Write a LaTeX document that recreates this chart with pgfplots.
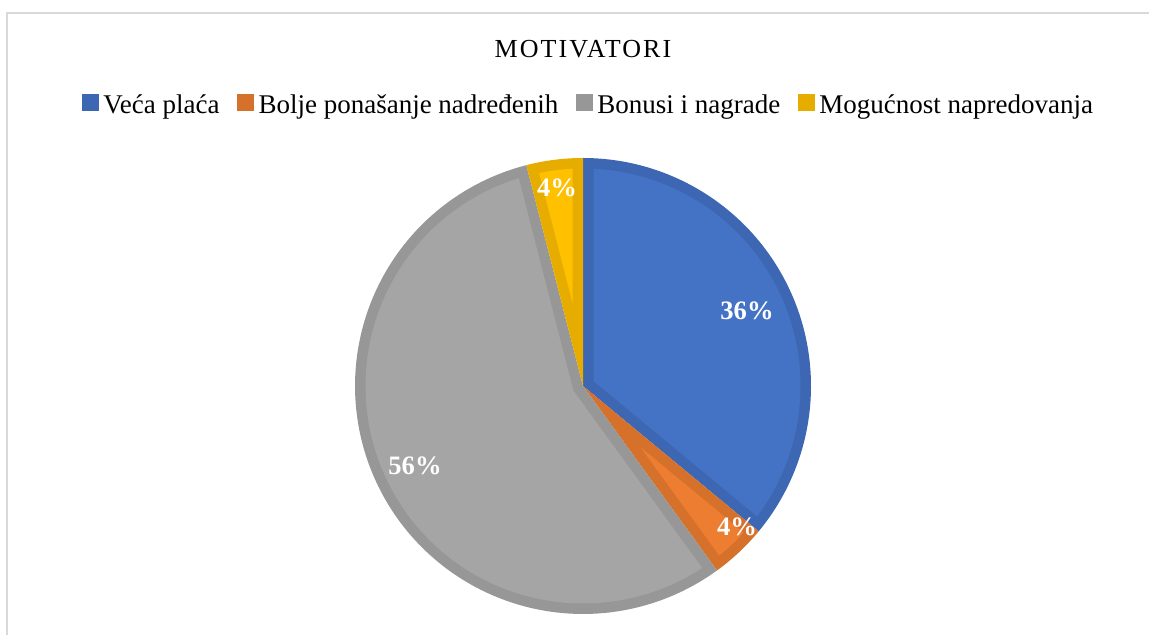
\documentclass[border=0pt]{standalone}
\usepackage{fontspec}
\setmainfont{Liberation Serif}
\newfontfamily\titlefont[LetterSpace=8]{Liberation Serif}
\usepackage{pgfplots}
\usepackage{pgfplotstable}
\pgfplotsset{compat=1.18}

\definecolor{bluelight}{HTML}{4472C4}
\definecolor{bluedark}{HTML}{3D67B2}
\definecolor{orangelight}{HTML}{ED7D31}
\definecolor{orangedark}{HTML}{D6712C}
\definecolor{graylight}{HTML}{A5A5A5}
\definecolor{graydark}{HTML}{979797}
\definecolor{yellowlight}{HTML}{FFC000}
\definecolor{yellowdark}{HTML}{E6AD00}
\definecolor{framegray}{HTML}{D9D9D9}

% shares in percent, in the order of the legend
\pgfplotstableread{
idx value
0 36
1 4
2 56
3 4
}\datatable

% pie geometry in pixel units of the picture
\def\cx{583}
\def\cy{249}
\def\R{228}
\def\w{10.5}
\gdef\curang{90}

\newcommand\pieslice[3]{%
  \pgfmathsetmacro\shi{\curang}%
  \pgfmathsetmacro\slo{\curang-3.6*#1}%
  \pgfmathsetmacro\smang{(\shi+\slo)/2}%
  \pgfmathsetmacro\sdd{\w/sin(1.8*#1)}%
  \pgfmathsetmacro\sax{\cx+\sdd*cos(\smang)}%
  \pgfmathsetmacro\say{\cy+\sdd*sin(\smang)}%
  \pgfmathsetmacro\sri{\R-\w}%
  \pgfmathsetmacro\sal{asin(\w/\sri)}%
  \pgfmathsetmacro\silo{\slo+\sal}%
  \pgfmathsetmacro\sihi{\shi-\sal}%
  \edef\tmp{%
    \noexpand\addplot[fill=#2,draw=none,domain=\slo:\shi,samples=120,forget plot]
      ({\cx+\R*cos(x)},{\cy+\R*sin(x)}) -- (\cx,\cy) -- cycle;
    \noexpand\addplot[fill=#3,draw=none,domain=\silo:\sihi,samples=120,forget plot]
      ({\cx+\sri*cos(x)},{\cy+\sri*sin(x)}) -- (\sax,\say) -- cycle;
  }%
  \tmp
  \global\let\curang\slo
}

\begin{document}
\begin{tikzpicture}
\begin{axis}[
  scale only axis,
  width=574.5pt, height=317.5pt,
  xmin=0, xmax=1149, ymin=0, ymax=635,
  hide axis, clip=false,
  legend columns=4,
  legend image code/.code={\fill[#1] (0pt,-2.4pt) rectangle (7.8pt,5.4pt);},
  legend style={
    at={(axis cs:590,530)}, anchor=center,
    draw=none, fill=none, inner sep=0pt,
    font=\fontsize{13.5}{15}\selectfont,
    nodes={inner xsep=2.4pt, inner ysep=0pt},
    /tikz/every even column/.append style={column sep=6.5pt},
  },
]
% chart frame (cropped at right and bottom)
\draw[framegray, line width=1pt] (6.5,0) -- (6.5,621.5) -- (1149,621.5);

\pgfplotstablegetelem{0}{value}\of\datatable \let\va\pgfplotsretval
\pgfplotstablegetelem{1}{value}\of\datatable \let\vb\pgfplotsretval
\pgfplotstablegetelem{2}{value}\of\datatable \let\vc\pgfplotsretval
\pgfplotstablegetelem{3}{value}\of\datatable \let\vd\pgfplotsretval

\pieslice{\va}{bluedark}{bluelight}
\pieslice{\vb}{orangedark}{orangelight}
\pieslice{\vc}{graydark}{graylight}
\pieslice{\vd}{yellowdark}{yellowlight}

\addlegendimage{bluedark}
\addlegendentry{Veća plaća}
\addlegendimage{orangedark}
\addlegendentry{Bolje ponašanje nadređenih}
\addlegendimage{graydark}
\addlegendentry{Bonusi i nagrade}
\addlegendimage{yellowdark}
\addlegendentry{Mogućnost napredovanja}

\node[anchor=base, font=\titlefont\fontsize{13}{15}\selectfont] at (583,577.3) {MOTIVATORI};

\node[white, font=\fontsize{13.3}{15}\selectfont\bfseries] at (747,324) {36\%};
\node[white, font=\fontsize{13.3}{15}\selectfont\bfseries] at (737,108) {4\%};
\node[white, font=\fontsize{13.3}{15}\selectfont\bfseries] at (415,169) {56\%};
\node[white, font=\fontsize{13.3}{15}\selectfont\bfseries] at (557,447) {4\%};
\end{axis}
\pgfresetboundingbox
\path[use as bounding box] (current axis.south west) rectangle (current axis.north east);
\end{tikzpicture}
\end{document}
